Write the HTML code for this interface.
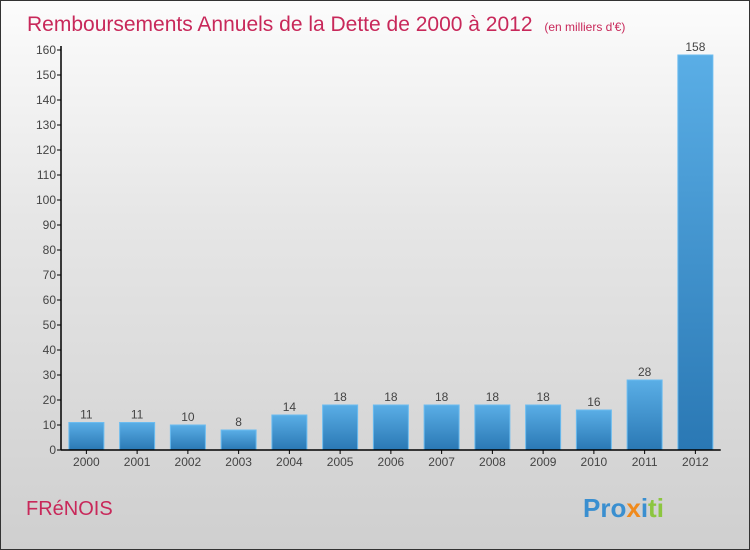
<!DOCTYPE html>
<html><head><meta charset="utf-8"><style>
body{margin:0}
#c{width:748px;height:548px;border:1px solid #333;background:linear-gradient(#fcfcfc,#e6e6e6 40%,#cfcfcf);position:relative;font-family:"Liberation Sans",sans-serif;overflow:hidden}
</style></head><body>
<div id="c">
<svg id="s" width="748" height="548">
<defs><linearGradient id="g" x1="0" y1="0" x2="0" y2="1"><stop offset="0" stop-color="#5aaee6"/><stop offset="1" stop-color="#2a78b4"/></linearGradient></defs>
<text x="26" y="30" font-size="21" fill="#c8285a">Remboursements Annuels de la Dette de 2000 à 2012 <tspan font-size="12" dx="6">(en milliers d'€)</tspan></text>
<text x="25" y="514" font-size="20" fill="#c8285a">FRéNOIS</text>
<text x="582" y="516" font-size="26" font-weight="bold"><tspan fill="#3a8fd0">Pro</tspan><tspan fill="#f08a1c">x</tspan><tspan fill="#3a8fd0">i</tspan><tspan fill="#8cc63f">ti</tspan></text>
<g id="plot"></g>
</svg>
</div>
<script>
const categories=["2000","2001","2002","2003","2004","2005","2006","2007","2008","2009","2010","2011","2012"];
const values=[11,11,10,8,14,18,18,18,18,18,16,28,158];
const yTicks=[0,10,20,30,40,50,60,70,80,90,100,110,120,130,140,150,160];
const NS="http://www.w3.org/2000/svg";
const g=document.getElementById('plot');
const x0=60,y0=449,bw=50.75,yMax=160,ph=400;
const y=v=>y0-v/yMax*ph;
const xc=i=>x0+bw*(i+0.5);
function mk(t,a,txt){const e=document.createElementNS(NS,t);for(const k in a)e.setAttribute(k,a[k]);if(txt!==undefined)e.textContent=txt;g.appendChild(e);return e;}
yTicks.forEach(t=>{
 const l=mk('line',{x1:x0-4,x2:x0,y1:y(t),y2:y(t),stroke:'#000'});
 
 
 const tx=mk('text',{x:x0-5,y:y(t)+4,'font-size':12,fill:'#444','text-anchor':'end'},t);
 
 
});
values.forEach((v,i)=>{
 const r=mk('rect',{x:xc(i)-17.5,y:y(v),width:35,height:y0-y(v),fill:'url(#g)',stroke:'#6bbcf0','stroke-width':1});
 
 
 const vl=mk('text',{x:xc(i),y:y(v)-4,'font-size':12,fill:'#444','text-anchor':'middle'},v);
 
 
 const tk=mk('line',{x1:xc(i),x2:xc(i),y1:y0,y2:y0+4,stroke:'#000'});
 
 
 const cl=mk('text',{x:xc(i),y:y0+16,'font-size':12,fill:'#444','text-anchor':'middle'},categories[i]);
 
 
});
const ya=mk('line',{x1:x0,x2:x0,y1:y0,y2:y(160)-4,stroke:'#000','stroke-width':1.5});


const xa=mk('line',{x1:x0,x2:x0+bw*13,y1:y0,y2:y0,stroke:'#000','stroke-width':1.5});


</script>
</body></html>
